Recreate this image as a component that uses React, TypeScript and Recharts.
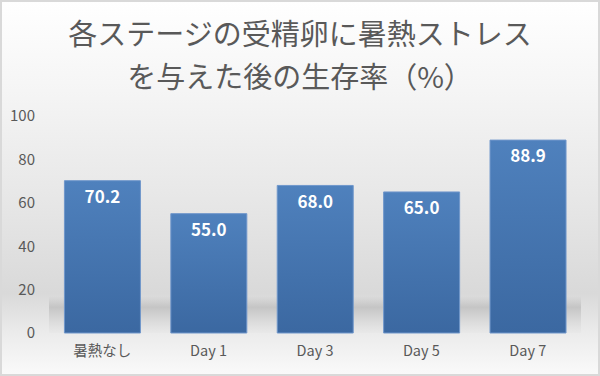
import React from "react";
import { BarChart, Bar, XAxis, YAxis, LabelList, ReferenceArea } from "recharts";

const categories = ["暑熱なし", "Day 1", "Day 3", "Day 5", "Day 7"];
const survivalRates = [70.2, 55.0, 68.0, 65.0, 88.9];
const yTicks = [0, 20, 40, 60, 80, 100];
const titleLines = ["各ステージの受精卵に暑熱ストレス", "を与えた後の生存率（%）"];

const data = categories.map((name, i) => ({ name, value: survivalRates[i] }));

const FONT = "'Noto Sans CJK JP', 'Noto Sans', sans-serif";

export default function App() {
  return (
    <div
      style={{
        position: "absolute",
        left: 0,
        top: 0,
        width: 600,
        height: 376,
        overflow: "hidden",
        fontFamily: FONT,
        background:
          "linear-gradient(to bottom, #ffffff 0%, #f6f6f6 22%, #e6e6e6 55%, #d9d9d9 78%, #ececec 89%, #fafafa 100%)",
      }}
    >
      <BarChart
        width={600}
        height={376}
        data={data}
        margin={{ top: 116, right: 19, bottom: 13, left: 0 }}
        barCategoryGap="14.5%"
      >
        <defs>
          <linearGradient id="barGrad" x1="0" y1="0" x2="0" y2="1">
            <stop offset="0%" stopColor="#4f81bd" />
            <stop offset="100%" stopColor="#3b68a1" />
          </linearGradient>
          <linearGradient id="shadowGrad" x1="0" y1="0" x2="0" y2="1">
            <stop offset="0%" stopColor="#c0c0c0" stopOpacity={0} />
            <stop offset="30%" stopColor="#c0c0c0" stopOpacity={0.85} />
            <stop offset="100%" stopColor="#e6e6e6" stopOpacity={0.5} />
          </linearGradient>
        </defs>
        <ReferenceArea
          x1="暑熱なし"
          x2="Day 7"
          y1={0}
          y2={17}
          fill="url(#shadowGrad)"
          fillOpacity={1}
          stroke="none"
          ifOverflow="visible"
        />
        <XAxis
          dataKey="name"
          axisLine={false}
          tickLine={false}
          tickSize={0}
          tickMargin={13}
          height={30}
          tick={{ fill: "#595959", fontSize: 14.5, fontFamily: FONT }}
        />
        <YAxis
          domain={[0, 100]}
          ticks={yTicks}
          axisLine={false}
          tickLine={false}
          tickSize={0}
          tickMargin={14}
          width={49}
          tick={{ fill: "#595959", fontSize: 15, fontFamily: FONT }}
        />
        <Bar
          dataKey="value"
          fill="url(#barGrad)"
          stroke="#7097cb"
          strokeWidth={1}
          isAnimationActive={false}
        >
          <LabelList
            dataKey="value"
            position="insideTop"
            offset={10}
            formatter={(v: number) => Number(v).toFixed(1)}
            style={{ fill: "#ffffff", fontSize: 17, fontWeight: "bold", fontFamily: FONT }}
          />
        </Bar>
      </BarChart>
      {titleLines.map((line, i) => (
        <div
          key={i}
          style={{
            position: "absolute",
            left: 0,
            width: 600,
            top: i === 0 ? 18 : 61,
            textAlign: "center",
            fontSize: 29,
            lineHeight: "29px",
            color: "#595959",
            whiteSpace: "nowrap",
          }}
        >
          {line}
        </div>
      ))}
      <div
        style={{
          position: "absolute",
          left: 0,
          top: 0,
          width: 600,
          height: 376,
          boxSizing: "border-box",
          border: "2px solid #d9d9d9",
          pointerEvents: "none",
        }}
      />
    </div>
  );
}
